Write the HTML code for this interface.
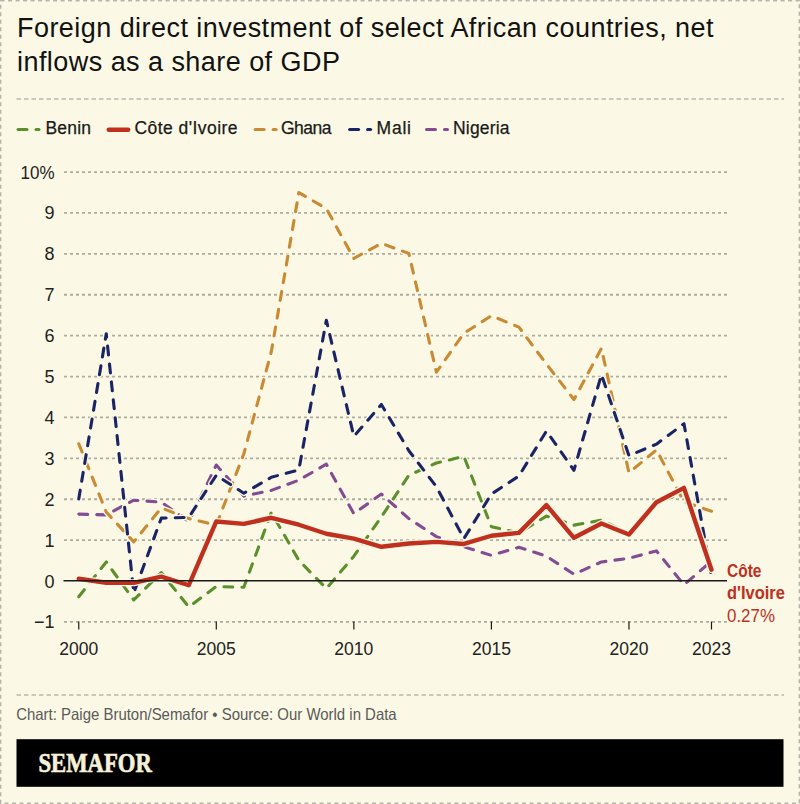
<!DOCTYPE html>
<html><head><meta charset="utf-8"><style>
html,body{margin:0;padding:0;background:#fbf9e5;}
body{width:800px;height:804px;overflow:hidden;}
svg{display:block;font-family:"Liberation Sans",sans-serif;}
</style></head><body>
<svg width="800" height="804" viewBox="0 0 800 804">
<rect x="0.6" y="0.6" width="798.8" height="802.8" fill="none" stroke="#b5b5ae" stroke-width="1.6" stroke-dasharray="4 3.5"/>
<text x="17" y="36.5" font-size="27" letter-spacing="0.45" fill="#121212">Foreign direct investment of select African countries, net</text>
<text x="17" y="70.9" font-size="27" letter-spacing="0.45" fill="#121212">inflows as a share of GDP</text>
<line x1="16.5" y1="99" x2="784" y2="99" stroke="#b9b8ae" stroke-width="1.5" stroke-dasharray="4.5 3"/>
<line x1="16.5" y1="695" x2="784" y2="695" stroke="#b9b8ae" stroke-width="1.5" stroke-dasharray="4.5 3"/>
<line x1="18.0" y1="129.5" x2="27.0" y2="129.5" stroke="#5b902c" stroke-width="3" stroke-linecap="round"/><line x1="36.0" y1="129.5" x2="39.0" y2="129.5" stroke="#5b902c" stroke-width="3" stroke-linecap="round"/>
<text x="45.5" y="134.1" font-size="17.5" fill="#1a1a1a" stroke="#1a1a1a" stroke-width="0.25" textLength="45.5" lengthAdjust="spacing">Benin</text>
<line x1="108.7" y1="129.7" x2="128.2" y2="129.7" stroke="#c0301e" stroke-width="4.4" stroke-linecap="round"/>
<text x="134.5" y="134.1" font-size="17.5" fill="#1a1a1a" stroke="#1a1a1a" stroke-width="0.25" textLength="103" lengthAdjust="spacing">Côte d'Ivoire</text>
<line x1="255.1" y1="129.5" x2="264.1" y2="129.5" stroke="#c98a33" stroke-width="3" stroke-linecap="round"/><line x1="273.1" y1="129.5" x2="276.1" y2="129.5" stroke="#c98a33" stroke-width="3" stroke-linecap="round"/>
<text x="281" y="134.1" font-size="17.5" fill="#1a1a1a" stroke="#1a1a1a" stroke-width="0.25" textLength="50.5" lengthAdjust="spacing">Ghana</text>
<line x1="349.6" y1="129.5" x2="358.6" y2="129.5" stroke="#1b2465" stroke-width="3" stroke-linecap="round"/><line x1="367.6" y1="129.5" x2="370.6" y2="129.5" stroke="#1b2465" stroke-width="3" stroke-linecap="round"/>
<text x="376.5" y="134.1" font-size="17.5" fill="#1a1a1a" stroke="#1a1a1a" stroke-width="0.25" textLength="34.5" lengthAdjust="spacing">Mali</text>
<line x1="426.5" y1="129.5" x2="435.5" y2="129.5" stroke="#844c92" stroke-width="3" stroke-linecap="round"/><line x1="444.5" y1="129.5" x2="447.5" y2="129.5" stroke="#844c92" stroke-width="3" stroke-linecap="round"/>
<text x="453" y="134.1" font-size="17.5" fill="#1a1a1a" stroke="#1a1a1a" stroke-width="0.25" textLength="56.5" lengthAdjust="spacing">Nigeria</text>
<line x1="64" y1="621.95" x2="727" y2="621.95" stroke="#aeac9e" stroke-width="1.8" stroke-dasharray="3 3"/>
<text x="54.5" y="628.45" font-size="18" text-anchor="end" fill="#222">−1</text>
<text x="54.5" y="587.55" font-size="18" text-anchor="end" fill="#222">0</text>
<line x1="64" y1="540.15" x2="727" y2="540.15" stroke="#aeac9e" stroke-width="1.8" stroke-dasharray="3 3"/>
<text x="54.5" y="546.65" font-size="18" text-anchor="end" fill="#222">1</text>
<line x1="64" y1="499.25" x2="727" y2="499.25" stroke="#aeac9e" stroke-width="1.8" stroke-dasharray="3 3"/>
<text x="54.5" y="505.75" font-size="18" text-anchor="end" fill="#222">2</text>
<line x1="64" y1="458.35" x2="727" y2="458.35" stroke="#aeac9e" stroke-width="1.8" stroke-dasharray="3 3"/>
<text x="54.5" y="464.85" font-size="18" text-anchor="end" fill="#222">3</text>
<line x1="64" y1="417.45" x2="727" y2="417.45" stroke="#aeac9e" stroke-width="1.8" stroke-dasharray="3 3"/>
<text x="54.5" y="423.95" font-size="18" text-anchor="end" fill="#222">4</text>
<line x1="64" y1="376.55" x2="727" y2="376.55" stroke="#aeac9e" stroke-width="1.8" stroke-dasharray="3 3"/>
<text x="54.5" y="383.05" font-size="18" text-anchor="end" fill="#222">5</text>
<line x1="64" y1="335.65" x2="727" y2="335.65" stroke="#aeac9e" stroke-width="1.8" stroke-dasharray="3 3"/>
<text x="54.5" y="342.15" font-size="18" text-anchor="end" fill="#222">6</text>
<line x1="64" y1="294.75" x2="727" y2="294.75" stroke="#aeac9e" stroke-width="1.8" stroke-dasharray="3 3"/>
<text x="54.5" y="301.25" font-size="18" text-anchor="end" fill="#222">7</text>
<line x1="64" y1="253.85" x2="727" y2="253.85" stroke="#aeac9e" stroke-width="1.8" stroke-dasharray="3 3"/>
<text x="54.5" y="260.35" font-size="18" text-anchor="end" fill="#222">8</text>
<line x1="64" y1="212.95" x2="727" y2="212.95" stroke="#aeac9e" stroke-width="1.8" stroke-dasharray="3 3"/>
<text x="54.5" y="219.45" font-size="18" text-anchor="end" fill="#222">9</text>
<line x1="64" y1="172.05" x2="727" y2="172.05" stroke="#aeac9e" stroke-width="1.8" stroke-dasharray="3 3"/>
<text x="54.5" y="178.55" font-size="18" text-anchor="end" fill="#222" textLength="34" lengthAdjust="spacingAndGlyphs">10%</text>
<line x1="78.75" y1="621.5" x2="78.75" y2="629.5" stroke="#1a1a1a" stroke-width="1.2"/>
<text x="78.75" y="655.3" font-size="18.5" text-anchor="middle" fill="#222" textLength="39" lengthAdjust="spacingAndGlyphs">2000</text>
<line x1="216.30" y1="621.5" x2="216.30" y2="629.5" stroke="#1a1a1a" stroke-width="1.2"/>
<text x="216.30" y="655.3" font-size="18.5" text-anchor="middle" fill="#222" textLength="39" lengthAdjust="spacingAndGlyphs">2005</text>
<line x1="353.85" y1="621.5" x2="353.85" y2="629.5" stroke="#1a1a1a" stroke-width="1.2"/>
<text x="353.85" y="655.3" font-size="18.5" text-anchor="middle" fill="#222" textLength="39" lengthAdjust="spacingAndGlyphs">2010</text>
<line x1="491.40" y1="621.5" x2="491.40" y2="629.5" stroke="#1a1a1a" stroke-width="1.2"/>
<text x="491.40" y="655.3" font-size="18.5" text-anchor="middle" fill="#222" textLength="39" lengthAdjust="spacingAndGlyphs">2015</text>
<line x1="628.95" y1="621.5" x2="628.95" y2="629.5" stroke="#1a1a1a" stroke-width="1.2"/>
<text x="628.95" y="655.3" font-size="18.5" text-anchor="middle" fill="#222" textLength="39" lengthAdjust="spacingAndGlyphs">2020</text>
<line x1="711.48" y1="621.5" x2="711.48" y2="629.5" stroke="#1a1a1a" stroke-width="1.2"/>
<text x="711.48" y="655.3" font-size="18.5" text-anchor="middle" fill="#222" textLength="39" lengthAdjust="spacingAndGlyphs">2023</text>
<path d="M78.75,596.70 L106.26,561.94 L133.77,599.97 L161.28,572.57 L188.79,606.93 L216.30,586.48 L243.81,587.29 L271.32,512.45 L298.83,560.30 L326.34,588.52 L353.85,556.21 L381.36,516.95 L408.87,475.23 L436.38,462.96 L463.89,456.41 L491.40,526.76 L518.91,532.90 L546.42,516.13 L573.93,525.13 L601.44,520.22 L628.95,533.72 L656.46,502.22 L683.97,493.22" fill="none" stroke="#fbf9e5" stroke-width="5.7" stroke-dasharray="8.9 9.1" stroke-linecap="round" stroke-linejoin="round"/><path d="M78.75,596.70 L106.26,561.94 L133.77,599.97 L161.28,572.57 L188.79,606.93 L216.30,586.48 L243.81,587.29 L271.32,512.45 L298.83,560.30 L326.34,588.52 L353.85,556.21 L381.36,516.95 L408.87,475.23 L436.38,462.96 L463.89,456.41 L491.40,526.76 L518.91,532.90 L546.42,516.13 L573.93,525.13 L601.44,520.22 L628.95,533.72 L656.46,502.22 L683.97,493.22" fill="none" stroke="#5b902c" stroke-width="3.1" stroke-dasharray="8.9 9.1" stroke-linecap="round" stroke-linejoin="round"/>
<path d="M78.75,514.08 L106.26,514.90 L133.77,500.18 L161.28,502.22 L188.79,521.45 L216.30,465.00 L243.81,496.09 L271.32,490.36 L298.83,480.14 L326.34,464.19 L353.85,513.67 L381.36,494.04 L408.87,518.58 L436.38,536.58 L463.89,546.80 L491.40,555.39 L518.91,547.21 L546.42,556.21 L573.93,574.21 L601.44,561.94 L628.95,558.25 L656.46,550.89 L683.97,584.84 L711.48,561.12" fill="none" stroke="#fbf9e5" stroke-width="5.7" stroke-dasharray="8.9 9.1" stroke-linecap="round" stroke-linejoin="round"/><path d="M78.75,514.08 L106.26,514.90 L133.77,500.18 L161.28,502.22 L188.79,521.45 L216.30,465.00 L243.81,496.09 L271.32,490.36 L298.83,480.14 L326.34,464.19 L353.85,513.67 L381.36,494.04 L408.87,518.58 L436.38,536.58 L463.89,546.80 L491.40,555.39 L518.91,547.21 L546.42,556.21 L573.93,574.21 L601.44,561.94 L628.95,558.25 L656.46,550.89 L683.97,584.84 L711.48,561.12" fill="none" stroke="#844c92" stroke-width="3.1" stroke-dasharray="8.9 9.1" stroke-linecap="round" stroke-linejoin="round"/>
<path d="M78.75,443.74 L106.26,512.04 L133.77,541.89 L161.28,507.95 L188.79,518.58 L216.30,525.13 L243.81,453.96 L271.32,351.71 L298.83,192.61 L326.34,208.56 L353.85,258.46 L381.36,243.32 L408.87,253.55 L436.38,372.16 L463.89,333.31 L491.40,315.72 L518.91,327.17 L546.42,363.98 L573.93,399.56 L601.44,348.44 L628.95,472.77 L656.46,449.87 L683.97,501.81 L711.48,511.22" fill="none" stroke="#fbf9e5" stroke-width="5.7" stroke-dasharray="8.9 9.1" stroke-linecap="round" stroke-linejoin="round"/><path d="M78.75,443.74 L106.26,512.04 L133.77,541.89 L161.28,507.95 L188.79,518.58 L216.30,525.13 L243.81,453.96 L271.32,351.71 L298.83,192.61 L326.34,208.56 L353.85,258.46 L381.36,243.32 L408.87,253.55 L436.38,372.16 L463.89,333.31 L491.40,315.72 L518.91,327.17 L546.42,363.98 L573.93,399.56 L601.44,348.44 L628.95,472.77 L656.46,449.87 L683.97,501.81 L711.48,511.22" fill="none" stroke="#c98a33" stroke-width="3.1" stroke-dasharray="8.9 9.1" stroke-linecap="round" stroke-linejoin="round"/>
<path d="M78.75,498.95 L106.26,333.71 L133.77,593.02 L161.28,518.17 L188.79,517.36 L216.30,475.23 L243.81,493.22 L271.32,477.27 L298.83,469.91 L326.34,320.22 L353.85,436.37 L381.36,404.47 L408.87,450.69 L436.38,486.68 L463.89,538.62 L491.40,494.04 L518.91,476.05 L546.42,431.06 L573.93,470.32 L601.44,374.61 L628.95,455.60 L656.46,444.14 L683.97,423.69 L711.48,576.66" fill="none" stroke="#fbf9e5" stroke-width="5.7" stroke-dasharray="8.9 9.1" stroke-linecap="round" stroke-linejoin="round"/><path d="M78.75,498.95 L106.26,333.71 L133.77,593.02 L161.28,518.17 L188.79,517.36 L216.30,475.23 L243.81,493.22 L271.32,477.27 L298.83,469.91 L326.34,320.22 L353.85,436.37 L381.36,404.47 L408.87,450.69 L436.38,486.68 L463.89,538.62 L491.40,494.04 L518.91,476.05 L546.42,431.06 L573.93,470.32 L601.44,374.61 L628.95,455.60 L656.46,444.14 L683.97,423.69 L711.48,576.66" fill="none" stroke="#1b2465" stroke-width="3.1" stroke-dasharray="8.9 9.1" stroke-linecap="round" stroke-linejoin="round"/>
<path d="M78.75,578.71 L106.26,582.79 L133.77,582.79 L161.28,576.66 L188.79,585.25 L216.30,521.45 L243.81,523.90 L271.32,517.76 L298.83,524.72 L326.34,533.72 L353.85,538.62 L381.36,546.80 L408.87,543.53 L436.38,541.89 L463.89,543.94 L491.40,535.76 L518.91,532.90 L546.42,505.08 L573.93,537.80 L601.44,523.49 L628.95,534.53 L656.46,502.22 L683.97,487.91 L711.48,569.71" fill="none" stroke="#fbf9e5" stroke-width="7.0" stroke-linejoin="round" stroke-linecap="round"/>
<path d="M78.75,578.71 L106.26,582.79 L133.77,582.79 L161.28,576.66 L188.79,585.25 L216.30,521.45 L243.81,523.90 L271.32,517.76 L298.83,524.72 L326.34,533.72 L353.85,538.62 L381.36,546.80 L408.87,543.53 L436.38,541.89 L463.89,543.94 L491.40,535.76 L518.91,532.90 L546.42,505.08 L573.93,537.80 L601.44,523.49 L628.95,534.53 L656.46,502.22 L683.97,487.91 L711.48,569.71" fill="none" stroke="#c0301e" stroke-width="4.4" stroke-linejoin="round" stroke-linecap="round"/>
<line x1="63.5" y1="580.75" x2="727" y2="580.75" stroke="#1a1a1a" stroke-width="1.6"/>
<text x="727" y="577.4" font-size="18" font-weight="bold" fill="#c0301e" textLength="34.5" lengthAdjust="spacingAndGlyphs">Côte</text>
<text x="727" y="599.4" font-size="18" font-weight="bold" fill="#c0301e" textLength="57.8" lengthAdjust="spacingAndGlyphs">d'Ivoire</text>
<text x="727" y="621.6" font-size="18" fill="#c0301e" textLength="48" lengthAdjust="spacingAndGlyphs">0.27%</text>
<text x="16.2" y="719.8" font-size="16.5" fill="#5a5a5a" textLength="380.5" lengthAdjust="spacingAndGlyphs">Chart: Paige Bruton/Semafor • Source: Our World in Data</text>
<rect x="16.5" y="739.2" width="767" height="47.6" fill="#000"/>
<text x="0" y="0" transform="translate(38.5 772.3) scale(0.83 1)" font-family="Liberation Serif" font-weight="bold" font-size="27.3" fill="#f6f1d8" stroke="#f6f1d8" stroke-width="0.7">SEMAFOR</text>
</svg>
</body></html>
